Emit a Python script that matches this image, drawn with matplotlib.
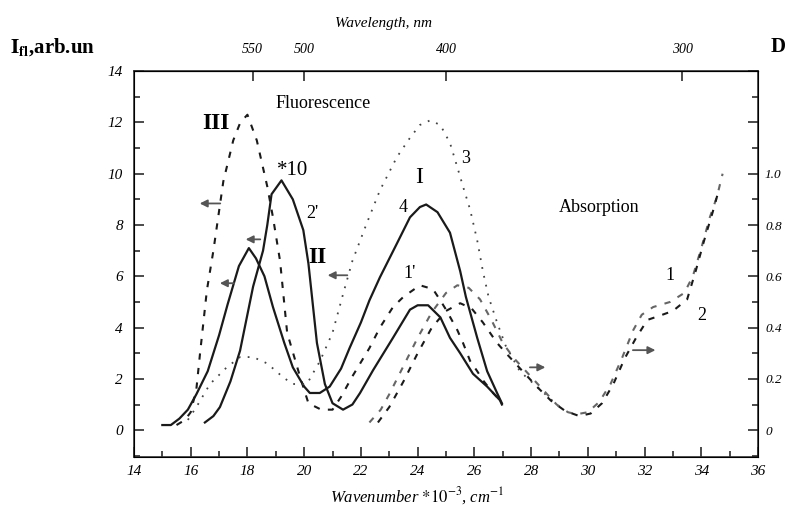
import matplotlib
matplotlib.use("Agg")
import matplotlib.pyplot as plt
from matplotlib.ticker import MultipleLocator, FixedLocator, FixedFormatter

plt.rcParams['font.family'] = ['Liberation Serif', 'DejaVu Serif']
plt.rcParams['mathtext.fontset'] = 'stix'

# fluorescence curves, left axis (arb. units), x in 10^3 cm^-1
s1_x = [15.0, 15.3, 15.6, 15.9, 16.2, 16.6, 17.0, 17.3, 17.7, 18.05, 18.3, 18.6, 18.9, 19.3, 19.6,
        20.0, 20.2, 20.55, 20.9, 21.3, 21.6, 22.0, 22.3, 22.67, 23.27, 23.73, 24.08, 24.3, 24.7,
        25.14, 25.5, 25.7, 26.1, 26.45, 26.8, 26.97]
s1_y = [0.2, 0.2, 0.45, 0.8, 1.4, 2.3, 3.7, 4.9, 6.4, 7.1, 6.7, 6.0, 4.8, 3.4, 2.45,
        1.7, 1.45, 1.45, 1.7, 2.4, 3.2, 4.2, 5.06, 5.96, 7.28, 8.3, 8.7, 8.8, 8.5,
        7.7, 6.2, 5.2, 3.6, 2.3, 1.45, 1.05]

s2_x = [16.5, 16.8, 17.03, 17.4, 17.74, 18.2, 18.55, 18.7, 18.85, 19.2, 19.6, 19.97, 20.15, 20.45,
        20.73, 21.0, 21.37, 21.7, 21.97, 22.43, 23.13, 23.73, 24.0, 24.37, 24.8, 25.14, 25.5,
        25.95, 26.45, 26.9, 26.97]
s2_y = [0.3, 0.55, 0.9, 1.9, 3.1, 5.6, 7.0, 8.0, 9.2, 9.74, 9.0, 7.8, 6.5, 3.4,
        1.8, 1.05, 0.8, 1.0, 1.45, 2.34, 3.6, 4.7, 4.87, 4.87, 4.4, 3.6, 3.0,
        2.2, 1.7, 1.17, 1.0]

d1_x = [15.5, 15.8, 16.0, 16.2, 16.33, 16.57, 16.8, 17.15, 17.5, 17.75, 18.0, 18.33, 18.7, 18.9,
        19.15, 19.4, 19.85, 20.15, 20.6, 21.0, 21.3, 21.7, 22.3, 22.67, 23.13, 23.5, 24.08, 24.54,
        24.8, 25.0, 25.4, 25.6, 25.85, 26.1, 26.3, 26.66, 26.9]
d1_y = [0.2, 0.4, 0.7, 1.6, 3.0, 5.45, 7.0, 9.7, 11.3, 12.0, 12.3, 11.3, 9.5, 8.3,
        6.6, 3.8, 2.1, 1.05, 0.8, 0.8, 1.3, 2.1, 3.2, 4.0, 4.8, 5.2, 5.65, 5.5,
        5.06, 4.7, 3.9, 3.4, 2.7, 2.3, 1.95, 1.45, 1.17]

dot3_x = [15.9, 16.2, 16.68, 17.27, 17.74, 18.2, 18.7, 19.27, 19.6, 20.1, 20.3, 20.56, 21.0, 21.37,
          21.7, 22.2, 22.67, 23.27, 23.73, 24.08, 24.44, 24.8, 25.14, 25.4, 25.6, 25.85, 26.1,
          26.3, 26.5, 26.8, 27.1, 27.6, 28.3, 29.0]
dot3_y = [0.4, 0.9, 1.8, 2.45, 2.85, 2.85, 2.6, 2.05, 1.8, 1.8, 2.2, 2.7, 3.8, 5.3,
          6.6, 8.05, 9.35, 10.65, 11.4, 11.9, 12.08, 11.9, 11.2, 10.25, 9.5, 8.6, 7.4,
          6.2, 5.2, 4.2, 3.3, 2.3, 1.6, 0.9]

# absorption curves, right axis (optical density D)
a1_x = [22.3, 22.7, 23.0, 23.5, 24.0, 24.5, 25.0, 25.4, 25.8, 26.2, 26.6, 27.0, 27.4, 27.9, 28.4,
        28.9, 29.3, 29.6, 30.0, 30.4, 30.8, 31.2, 31.6, 31.9, 32.3, 32.9, 33.4, 33.7, 34.0,
        34.3, 34.55, 34.75]
a1_d = [0.03, 0.08, 0.14, 0.25, 0.36, 0.46, 0.535, 0.565, 0.555, 0.51, 0.43, 0.34, 0.28, 0.22, 0.16,
        0.10, 0.07, 0.062, 0.07, 0.11, 0.18, 0.28, 0.39, 0.45, 0.48, 0.50, 0.535, 0.60, 0.71,
        0.83, 0.91, 1.0]
a2_x = [22.6, 23.0, 23.5, 24.0, 24.5, 25.0, 25.5, 25.9, 26.3, 26.8, 27.2, 27.7, 28.2, 28.7, 29.2,
        29.7, 30.1, 30.5, 30.9, 31.3, 31.7, 32.1, 32.5, 33.0, 33.5, 33.8, 34.1, 34.4, 34.6]
a2_d = [0.03, 0.09, 0.19, 0.30, 0.40, 0.465, 0.495, 0.475, 0.42, 0.34, 0.29, 0.23, 0.17, 0.115, 0.075,
        0.055, 0.065, 0.105, 0.18, 0.28, 0.36, 0.43, 0.445, 0.465, 0.51, 0.62, 0.74, 0.85, 0.93]

wl_ticks = [550, 500, 400, 300]

fig = plt.figure(figsize=(7.88, 5.23), dpi=100)
ax = fig.add_axes([0.170, 0.126, 0.792, 0.738])

ink = '#1a1a1a'
ax.plot(s1_x, s1_y, color=ink, lw=1.6)
ax.plot(s2_x, s2_y, color=ink, lw=1.6)
ax.plot(d1_x, d1_y, color=ink, lw=1.5, ls=(0, (3, 4)))
ax.plot(dot3_x, dot3_y, color='#444444', lw=1.3, ls=(0, (1, 4)))

ax.set_xlim(14, 36)
ax.set_ylim(-1.05, 14)
ax.xaxis.set_major_locator(MultipleLocator(2))
ax.xaxis.set_minor_locator(MultipleLocator(1))
ax.yaxis.set_major_locator(MultipleLocator(2))
ax.yaxis.set_minor_locator(MultipleLocator(1))
ax.tick_params(which='both', direction='in', color=ink, width=1.1)
ax.tick_params(which='major', length=7)
ax.tick_params(which='minor', length=4)
ax.tick_params(axis='x', which='major', pad=6, labelsize=11)
ax.tick_params(axis='y', which='major', pad=8, labelsize=11)
for lab in ax.get_xticklabels() + ax.get_yticklabels():
    lab.set_fontstyle('italic')
for sp in ax.spines.values():
    sp.set_linewidth(1.2)
    sp.set_color('#333333')

# right axis: absorption
axr = ax.twinx()
axr.plot(a1_x, a1_d, color='#666666', lw=1.5, ls=(0, (3, 4)))
axr.plot(a2_x, a2_d, color=ink, lw=1.5, ls=(0, (3, 4)))
axr.set_ylim(-0.105, 1.4)
axr.yaxis.set_major_locator(FixedLocator([0, 0.2, 0.4, 0.6, 0.8, 1.0, 1.2, 1.4]))
axr.yaxis.set_major_formatter(FixedFormatter(['0', '0.2', '0.4', '0.6', '0.8', '1.0', '', '']))
axr.yaxis.set_minor_locator(MultipleLocator(0.1))
axr.tick_params(which='both', direction='in', color=ink, width=1.1, labelsize=9.5, pad=5)
axr.tick_params(which='major', length=7)
axr.tick_params(which='minor', length=4)
for lab in axr.get_yticklabels():
    lab.set_fontstyle('italic')

# top axis: wavelength, nm
top = ax.secondary_xaxis('top', functions=(lambda x: 1e4 / x, lambda x: 1e4 / x))
top.set_xticks(wl_ticks)
top.xaxis.set_minor_locator(FixedLocator([]))
top.tick_params(direction='in', length=7, width=1.1, color=ink, labelsize=10, pad=11)
for lab in top.get_xticklabels():
    lab.set_fontstyle('italic')

# arrows showing which axis each group belongs to
arrows = [((17.14, 8.84), (16.22, 8.84)), ((18.55, 7.44), (17.84, 7.44)),
          ((17.63, 5.73), (16.93, 5.73)), ((21.62, 6.04), (20.73, 6.04)),
          ((27.86, 2.45), (28.6, 2.45)), ((31.49, 3.12), (32.48, 3.12))]
for tail, head in arrows:
    ax.annotate('', xy=head, xytext=tail,
                arrowprops=dict(arrowstyle='-|>', color='#555555', lw=1.3, mutation_scale=11))

ax.text(20.66, 12.74, 'Fluorescence', fontsize=13, ha='center', va='center')
ax.text(30.4, 8.69, 'Absorption', fontsize=13, ha='center', va='center')
ax.text(16.89, 11.96, 'III', fontsize=17, ha='center', va='center', fontweight='bold')
ax.text(20.45, 6.74, 'II', fontsize=17, ha='center', va='center', fontweight='bold')
ax.text(24.05, 9.86, 'I', fontsize=17, ha='center', va='center')
ax.text(19.6, 10.13, '*10', fontsize=15, ha='center', va='center')
ax.text(20.3, 8.45, "2'", fontsize=13, ha='center', va='center')
ax.text(25.7, 10.6, '3', fontsize=13, ha='center', va='center')
ax.text(23.5, 8.69, '4', fontsize=13, ha='center', va='center')
ax.text(23.7, 6.1, "1'", fontsize=13, ha='center', va='center')
ax.text(32.9, 6.04, '1', fontsize=13, ha='center', va='center')
ax.text(34.0, 4.48, '2', fontsize=13, ha='center', va='center')

fig.text(0.487, 0.955, 'Wavelength, nm', fontsize=11, style='italic', ha='center', va='center')
fig.text(0.53, 0.052, r'Wavenumber $*10^{-3}$, cm$^{-1}$', fontsize=12, style='italic',
         ha='center', va='center')
fig.text(0.013, 0.91, r'$\mathbf{I_{fl}}$,arb.un', fontsize=15, fontweight='bold', ha='left', va='center')
fig.text(0.978, 0.91, 'D', fontsize=15, fontweight='bold', ha='left', va='center')

fig.savefig('out.png', dpi=100)
